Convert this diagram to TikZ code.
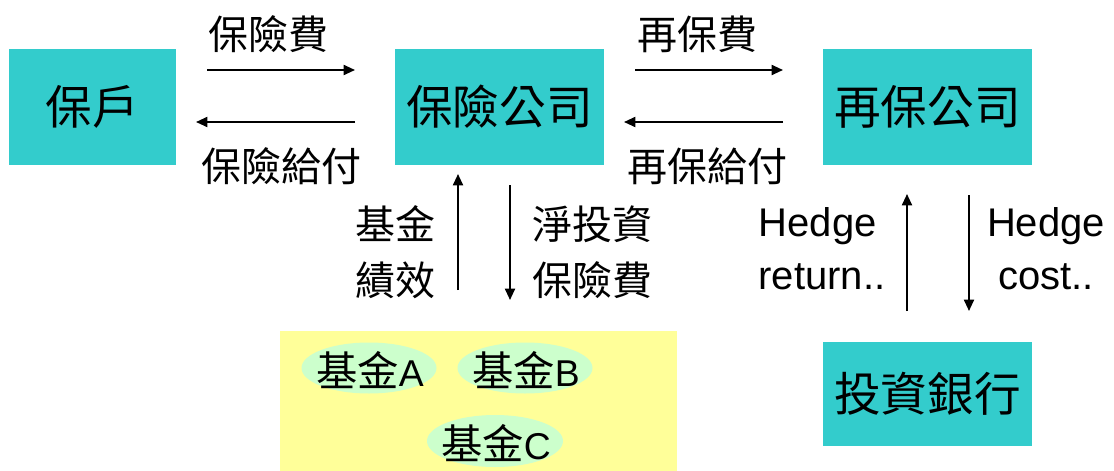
\documentclass[tikz,border=0pt]{standalone}
\usepackage{fontspec}
\newfontfamily\cjk{Noto Sans CJK TC}
\newfontfamily\lat{Liberation Sans}
\usetikzlibrary{arrows.meta}
\definecolor{teal1}{HTML}{33CCCC}
\definecolor{yel1}{HTML}{FFFF99}
\definecolor{grn1}{HTML}{CCFFCC}
\tikzset{
  box/.style={fill=teal1, draw=none, inner sep=0pt, font=\cjk\fontsize{35}{40}\selectfont},
  lbl/.style={inner sep=0pt, align=center, font=\cjk\fontsize{30}{42}\selectfont},
  hlbl/.style={inner sep=0pt, font=\lat\fontsize{30}{40}\selectfont},
  fundbg/.style={fill=grn1},
  fund/.style={inner sep=0pt},
  flow/.style={line width=1.4pt, -{Triangle[length=8.5pt,width=7.5pt]}},
}
\newcommand{\fundtext}[1]{{\cjk\fontsize{31}{36}\selectfont 基金}{\lat\fontsize{28}{34}\selectfont #1}}
\begin{document}
\begin{tikzpicture}[x=0.75pt, y=-0.75pt]
\useasboundingbox (0,0) rectangle (1114,471);
% boxes
\node[box, minimum width=167*0.75pt, minimum height=116*0.75pt] (hold) at (92.5,107) {保戶};
\node[box, minimum width=209*0.75pt, minimum height=116*0.75pt] (ins) at (499.5,107) {保險公司};
\node[box, minimum width=209*0.75pt, minimum height=116*0.75pt] (re) at (927.5,107) {再保公司};
\node[box, minimum width=209*0.75pt, minimum height=104*0.75pt] (bank) at (927.5,394) {投資銀行};
% fund area
\node[fill=yel1, draw=none, minimum width=397*0.75pt, minimum height=140*0.75pt, inner sep=0pt] (pool) at (478.5,401) {};
\fill[fundbg] (369,368) ellipse [x radius=67.5, y radius=25.5];
\fill[fundbg] (525,368) ellipse [x radius=67.5, y radius=25.5];
\fill[fundbg] (495,441) ellipse [x radius=68, y radius=26];
\node[fund] (fa) at (370,370) {\fundtext{A}};
\node[fund] (fb) at (526,370) {\fundtext{B}};
\node[fund] (fc) at (496,443) {\fundtext{C}};
% arrow end points
\coordinate (p1s) at (207,70);  \coordinate (p1e) at (355,70);
\coordinate (p2s) at (355,122); \coordinate (p2e) at (196,122);
\coordinate (p3s) at (635,70);  \coordinate (p3e) at (783,70);
\coordinate (p4s) at (783,122); \coordinate (p4e) at (624,122);
\coordinate (v1s) at (458,290); \coordinate (v1e) at (458,174);
\coordinate (v2s) at (510,185); \coordinate (v2e) at (510,300);
\coordinate (v3s) at (907,311); \coordinate (v3e) at (907,194);
\coordinate (v4s) at (969,195); \coordinate (v4e) at (969,311);
\draw[flow] (p1s) -- (p1e);
\draw[flow] (p2s) -- (p2e);
\draw[flow] (p3s) -- (p3e);
\draw[flow] (p4s) -- (p4e);
\draw[flow] (v1s) -- (v1e);
\draw[flow] (v2s) -- (v2e);
\draw[flow] (v3s) -- (v3e);
\draw[flow] (v4s) -- (v4e);
% labels
\node[lbl] (l1) at (268,34) {保險費};
\node[lbl] (l2) at (281,166) {保險給付};
\node[lbl] (l3) at (697,34) {再保費};
\node[lbl] (l4) at (707,166) {再保給付};
\node[lbl] (l5) at (395,252) {基金\\績效};
\node[lbl] (l6) at (592,252) {淨投資\\保險費};
\node[hlbl, align=left] (l7) at (822,249) {Hedge\\return..};
\node[hlbl, align=center] (l8) at (1046,249) {Hedge\\cost..};
\end{tikzpicture}
\end{document}
